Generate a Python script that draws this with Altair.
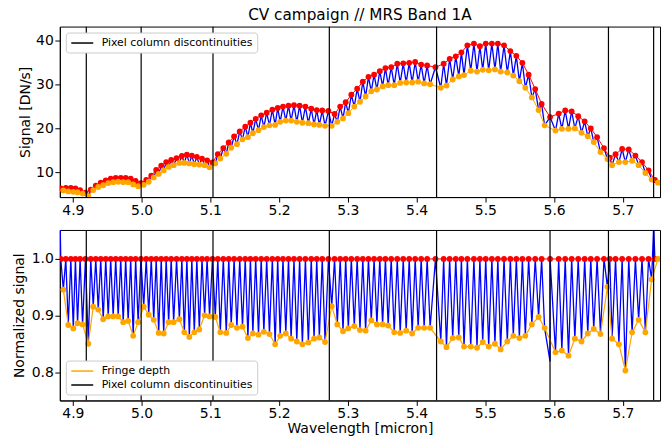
import altair as alt
import pandas as pd

FONT = "DejaVu Sans"

# ---- data ----
w_min = [4.8861, 4.8933, 4.9006, 4.9068, 4.9141, 4.9224, 4.9296, 4.9369, 4.9441, 4.9514,
         4.9586, 4.9659, 4.9732, 4.9804, 4.9877, 4.9949, 5.0030, 5.0103, 5.0176, 5.0248,
         5.0321, 5.0393, 5.0466, 5.0549, 5.0621, 5.0694, 5.0766, 5.0839, 5.0916, 5.0988,
         5.1071, 5.1144, 5.1231, 5.1303, 5.1386, 5.1467, 5.1546, 5.1618, 5.1700, 5.1778,
         5.1859, 5.1942, 5.2015, 5.2097, 5.2174, 5.2257, 5.2338, 5.2425, 5.2508, 5.2585,
         5.2668, 5.2765, 5.2846, 5.2929, 5.3006, 5.3093, 5.3176, 5.3258, 5.3340, 5.3422,
         5.3505, 5.3586, 5.3674, 5.3761, 5.3848, 5.3935, 5.4022, 5.4109, 5.4196, 5.4351,
         5.4434, 5.4525, 5.4613, 5.4689, 5.4787, 5.4878, 5.4961, 5.5048, 5.5139, 5.5222,
         5.5319, 5.5406, 5.5494, 5.5581, 5.5676, 5.5774, 5.5861, 5.6020, 5.6112, 5.6209,
         5.6301, 5.6398, 5.6489, 5.6576, 5.6674, 5.6775, 5.6843, 5.6942, 5.7036, 5.7134,
         5.7229, 5.7327, 5.7418, 5.7511]

norm_min = [0.946, 0.884, 0.878, 0.887, 0.885, 0.851, 0.916, 0.911, 0.894, 0.899,
            0.899, 0.899, 0.889, 0.891, 0.865, 0.889, 0.916, 0.902, 0.893, 0.870,
            0.869, 0.889, 0.889, 0.894, 0.871, 0.863, 0.871, 0.876, 0.901, 0.899,
            0.898, 0.871, 0.870, 0.884, 0.879, 0.881, 0.861, 0.869, 0.867, 0.872,
            0.868, 0.850, 0.865, 0.869, 0.860, 0.855, 0.850, 0.853, 0.860, 0.862,
            0.854, 0.917, 0.885, 0.873, 0.878, 0.882, 0.875, 0.874, 0.892, 0.885,
            0.885, 0.883, 0.871, 0.870, 0.874, 0.869, 0.879, 0.879, 0.879, 0.855,
            0.845, 0.861, 0.862, 0.846, 0.846, 0.844, 0.854, 0.846, 0.851, 0.841,
            0.855, 0.865, 0.861, 0.865, 0.885, 0.898, 0.879, 0.836, 0.839, 0.830,
            0.860, 0.855, 0.869, 0.877, 0.868, 0.951, 0.860, 0.850, 0.804, 0.871,
            0.893, 0.871, 0.964, 1.000]

sig_min = [5.8, 5.6, 5.5, 5.4, 5.1, 4.5, 5.9, 6.6, 7.0, 7.5,
           7.7, 7.8, 7.7, 7.7, 7.2, 6.8, 7.1, 7.8, 8.8, 9.6,
           10.4, 11.2, 11.6, 12.1, 12.1, 12.0, 11.8, 11.7, 11.6, 11.1,
           12.0, 13.1, 14.2, 15.6, 16.4, 17.5, 18.0, 18.9, 19.6, 20.3,
           20.7, 20.8, 21.5, 21.8, 21.8, 21.5, 21.3, 21.2, 20.9, 20.8,
           20.6, 20.6, 21.5, 22.3, 23.5, 25.0, 26.1, 27.3, 28.5, 28.9,
           29.6, 29.9, 29.9, 30.4, 30.5, 30.5, 30.7, 30.3, 30.1, 29.3,
           29.8, 31.2, 31.9, 32.2, 33.2, 33.0, 33.4, 33.3, 33.5, 33.0,
           32.8, 32.1, 30.8, 29.3, 27.1, 24.2, 20.7, 19.5, 19.9, 19.9,
           20.0, 19.0, 18.2, 16.9, 14.6, 13.0, 11.6, 12.3, 12.3, 12.6,
           11.6, 9.8, 8.3, 7.6]

w_max = [4.8824, 4.8897, 4.8970, 4.9037, 4.9105, 4.9183, 4.9260, 4.9333, 4.9405, 4.9478,
         4.9550, 4.9623, 4.9696, 4.9768, 4.9841, 4.9913, 4.9990, 5.0067, 5.0140, 5.0212,
         5.0285, 5.0357, 5.0430, 5.0508, 5.0585, 5.0658, 5.0730, 5.0803, 5.0878, 5.0952,
         5.1030, 5.1108, 5.1188, 5.1267, 5.1345, 5.1427, 5.1507, 5.1582, 5.1659, 5.1739,
         5.1819, 5.1901, 5.1979, 5.2056, 5.2136, 5.2216, 5.2298, 5.2382, 5.2467, 5.2547,
         5.2627, 5.2717, 5.2806, 5.2888, 5.2968, 5.3050, 5.3135, 5.3217, 5.3299, 5.3381,
         5.3464, 5.3546, 5.3630, 5.3718, 5.3805, 5.3892, 5.3979, 5.4066, 5.4153, 5.4274,
         5.4393, 5.4480, 5.4569, 5.4651, 5.4738, 5.4833, 5.4920, 5.5005, 5.5094, 5.5181,
         5.5271, 5.5363, 5.5450, 5.5538, 5.5629, 5.5725, 5.5818, 5.5941, 5.6066, 5.6161,
         5.6255, 5.6350, 5.6444, 5.6533, 5.6625, 5.6725, 5.6809, 5.6893, 5.6989, 5.7085,
         5.7182, 5.7278, 5.7373, 5.7465]

sig_max = [6.3, 6.4, 6.4, 6.3, 5.9, 5.3, 6.0, 6.9, 7.6, 8.1,
           8.5, 8.7, 8.7, 8.7, 8.5, 8.0, 7.5, 8.2, 9.2, 10.5,
           11.5, 12.3, 12.8, 13.2, 13.7, 14.0, 13.8, 13.5, 13.1, 12.7,
           12.2, 14.1, 15.5, 16.8, 18.2, 19.3, 20.4, 21.3, 22.2, 23.0,
           23.6, 24.3, 24.7, 25.0, 25.2, 25.3, 25.2, 25.0, 24.5, 24.2,
           24.1, 24.0, 23.3, 25.0, 26.0, 27.7, 29.1, 30.7, 31.8, 32.3,
           33.1, 33.8, 34.0, 34.8, 34.9, 35.0, 35.2, 34.6, 34.4, 34.0,
           34.8, 35.9, 36.5, 37.4, 39.0, 39.4, 38.8, 39.4, 39.4, 39.4,
           39.0, 37.7, 36.6, 35.0, 32.3, 29.0, 25.6, 22.6, 23.4, 24.1,
           23.9, 22.8, 21.6, 20.0, 18.0, 15.5, 13.3, 14.1, 15.3, 15.2,
           13.8, 12.3, 10.4, 8.2]

# maxima are 1 by construction in the normalized panel
norm_max = [1.0] * len(w_max)

# extra excursions of the blue normalized trace at discontinuities
blue_extra_w = [4.8815, 5.5940, 5.7448]
blue_extra_norm = [1.06, 0.82, 1.06]

disc_w = [4.9195, 4.9993, 5.1038, 5.2730, 5.4290, 5.5940, 5.6790, 5.7447]

x_ticks = [4.9, 5.0, 5.1, 5.2, 5.3, 5.4, 5.5, 5.6, 5.7]
top_ticks = [10, 20, 30, 40]
bot_ticks = [0.8, 0.9, 1.0]

# ---- tables ----
mins = pd.DataFrame({"w": w_min, "sig": sig_min, "norm": norm_min, "label": "Fringe depth"})
maxs = pd.DataFrame({"w": w_max, "sig": sig_max, "norm": norm_max})
extra = pd.DataFrame({"w": blue_extra_w, "norm": blue_extra_norm})
blue_top = pd.concat([mins[["w", "sig"]], maxs[["w", "sig"]]]).sort_values("w").reset_index(drop=True)
blue_bot = pd.concat([mins[["w", "norm"]], maxs[["w", "norm"]], extra]).sort_values("w").reset_index(drop=True)
disc = pd.DataFrame({"w": disc_w, "label": "Pixel column discontinuities"})

W, H = 602, 171
xscale = alt.Scale(domain=[4.881, 5.754], nice=False, zero=False)
DOT = 34

def legend(orient):
    return alt.Legend(title=None, orient=orient, offset=6, padding=4,
                      strokeColor="#cccccc", fillColor="white", cornerRadius=3,
                      symbolType="M-2,0L2,0", symbolSize=121, symbolStrokeWidth=1.5,
                      symbolFillColor="transparent", symbolOffset=6,
                      labelFont=FONT, labelFontSize=10.9, labelColor="black",
                      labelOffset=13, rowPadding=2, labelLimit=300)

# ---- top panel ----
xt = alt.X("w:Q", scale=xscale, title=None, axis=alt.Axis(values=x_ticks, format=".1f"))
yt_scale = alt.Scale(domain=[4.3, 43.3], nice=False, zero=False)
yt = alt.Y("sig:Q", scale=yt_scale,
           axis=alt.Axis(values=top_ticks, title="Signal [DN/s]", titleX=-34, titleY=H / 2,
                         titleAngle=270, titleAlign="center", titleBaseline="middle"))

top = alt.layer(
    alt.Chart(blue_top).mark_line(color="blue", strokeWidth=1.3, clip=True).encode(x=xt, y=yt),
    alt.Chart(maxs).mark_line(color="red", strokeWidth=1, clip=True).encode(x=xt, y=yt),
    alt.Chart(maxs).mark_circle(color="red", size=DOT, opacity=1, clip=True).encode(x=xt, y=yt),
    alt.Chart(mins).mark_line(color="orange", strokeWidth=1, clip=True).encode(x=xt, y=yt),
    alt.Chart(mins).mark_circle(color="orange", size=DOT, opacity=1, clip=True).encode(x=xt, y=yt),
    alt.Chart(disc).mark_rule(strokeWidth=1.2, clip=True).encode(
        x=xt,
        color=alt.Color("label:N", scale=alt.Scale(domain=["Pixel column discontinuities"], range=["black"]),
                        legend=legend("top-left")),
    ),
).properties(
    width=W, height=H,
    title=alt.Title("CV campaign // MRS Band 1A", font=FONT, fontSize=15.3, fontWeight="normal",
                    color="black", frame="group", anchor="middle", offset=3),
)

# ---- bottom panel ----
xb = alt.X("w:Q", scale=xscale, title="Wavelength [micron]",
           axis=alt.Axis(values=x_ticks, format=".1f", titleY=32, titleBaseline="alphabetic"))
yb_scale = alt.Scale(domain=[0.7514, 1.0509], nice=False, zero=False)
yb = alt.Y("norm:Q", scale=yb_scale,
           axis=alt.Axis(values=bot_ticks, format=".1f", title="Normalized signal", titleX=-40.5,
                         titleY=H / 2, titleAngle=270, titleAlign="center", titleBaseline="middle"))
cscale = alt.Scale(domain=["Fringe depth", "Pixel column discontinuities"], range=["orange", "black"])

bottom = alt.layer(
    alt.Chart(blue_bot).mark_line(color="blue", strokeWidth=1.3, clip=True).encode(x=xb, y=yb),
    alt.Chart(maxs).mark_line(color="red", strokeWidth=1, clip=True).encode(x=xb, y=yb),
    alt.Chart(maxs).mark_circle(color="red", size=DOT, opacity=1, clip=True).encode(x=xb, y=yb),
    alt.Chart(mins).mark_line(strokeWidth=1.2, clip=True).encode(
        x=xb, y=yb, color=alt.Color("label:N", scale=cscale, legend=legend("bottom-left"))),
    alt.Chart(mins).mark_circle(color="orange", size=DOT, opacity=1, clip=True).encode(x=xb, y=yb),
    alt.Chart(disc).mark_rule(strokeWidth=1.2, clip=True).encode(
        x=xb, color=alt.Color("label:N", scale=cscale, legend=legend("bottom-left"))),
).properties(width=W, height=H)

chart = alt.vconcat(top, bottom, spacing=11).resolve_scale(
    color="independent"
).resolve_legend(color="independent").properties(
    padding={"left": 12, "top": 7, "right": 7, "bottom": 0},
    background="white",
).configure_axis(
    labelFont=FONT, titleFont=FONT, labelFontSize=14, titleFontSize=14, titleFontWeight="normal",
    labelColor="black", titleColor="black", tickColor="black", domainColor="black",
    tickSize=5, grid=False, labelPadding=1.5,
).configure_view(stroke="black", strokeWidth=1)

chart.save("out.html", embed_options={"renderer": "svg", "actions": False})
